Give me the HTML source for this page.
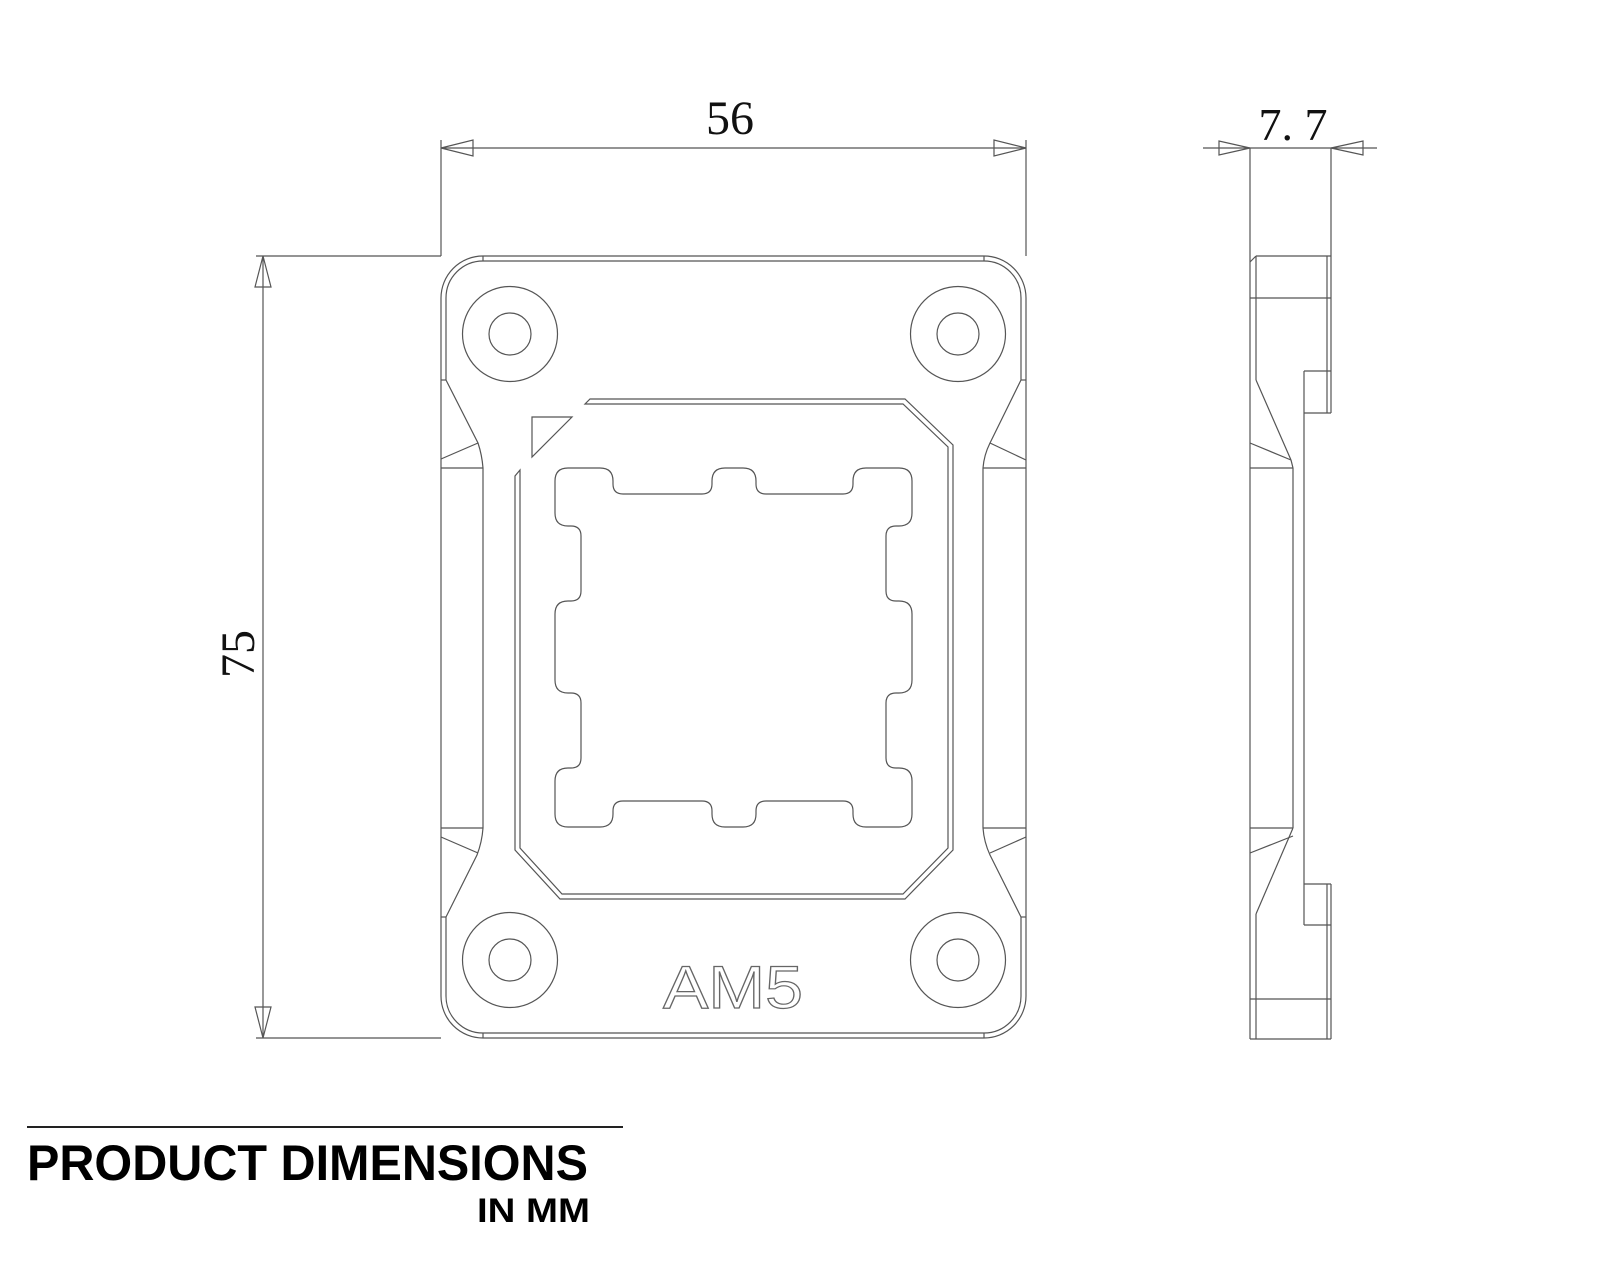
<!DOCTYPE html>
<html><head><meta charset="utf-8"><style>
html,body{margin:0;padding:0;background:#fff;}
svg{display:block;}
</style></head><body>
<svg width="1600" height="1280" viewBox="0 0 1600 1280" xmlns="http://www.w3.org/2000/svg">
<g fill="none" stroke="#555" stroke-width="1.2">
<!-- width dimension -->
<line x1="441" y1="148" x2="1026" y2="148"/>
<line x1="441" y1="140" x2="441" y2="256"/>
<line x1="1026" y1="140" x2="1026" y2="256"/>
<polygon points="441,148 473,140 473,156"/>
<polygon points="1026,148 994,140 994,156"/>
<!-- height dimension -->
<line x1="263" y1="256" x2="263" y2="1038"/>
<line x1="256" y1="256" x2="441" y2="256"/>
<line x1="256" y1="1038" x2="441" y2="1038"/>
<polygon points="263,256 255,287 271,287"/>
<polygon points="263,1038 255,1007 271,1007"/>
<!-- plate outer -->
<path d="M483,256 L984,256 A42,42 0 0 1 1026,298 L1026,996 A42,42 0 0 1 984,1038 L483,1038 A42,42 0 0 1 441,996 L441,298 A42,42 0 0 1 483,256 Z"/>
<path d="M483,261 L984,261 A37,37 0 0 1 1021,298 L1021,380 L990,443 Q984,455 983,468 L983,828 Q984,842 990,855 L1021,917 L1021,996 A37,37 0 0 1 984,1033 L483,1033 A37,37 0 0 1 446,996 L446,917 L477,855 Q482,842 483,828 L483,468 Q482,455 478,443 L446,380 L446,298 A37,37 0 0 1 483,261 Z"/>
<line x1="483" y1="256" x2="483" y2="261"/><line x1="984" y1="256" x2="984" y2="261"/>
<line x1="483" y1="1033" x2="483" y2="1038"/><line x1="984" y1="1033" x2="984" y2="1038"/>
<line x1="441" y1="380" x2="446" y2="380"/><line x1="1021" y1="380" x2="1026" y2="380"/>
<line x1="441" y1="917" x2="446" y2="917"/><line x1="1021" y1="917" x2="1026" y2="917"/>
<!-- waist details -->
<line x1="441" y1="468" x2="483" y2="468"/><line x1="441" y1="459" x2="478" y2="443"/>
<line x1="983" y1="468" x2="1026" y2="468"/><line x1="990" y1="443" x2="1026" y2="460"/>
<line x1="441" y1="828" x2="483" y2="828"/><line x1="441" y1="837" x2="478" y2="853"/>
<line x1="983" y1="828" x2="1026" y2="828"/><line x1="990" y1="853" x2="1026" y2="837"/>
<!-- holes -->
<circle cx="510" cy="334" r="47.5"/><circle cx="510" cy="334" r="21"/>
<circle cx="958" cy="334" r="47.5"/><circle cx="958" cy="334" r="21"/>
<circle cx="510" cy="960" r="47.5"/><circle cx="510" cy="960" r="21"/>
<circle cx="958" cy="960" r="47.5"/><circle cx="958" cy="960" r="21"/>
<!-- frame -->
<path d="M590,399 L905,399 L953,445 L953,850 L905,899 L560,899 L515,850 L515,476 L520,470 L520,848 L562,894 L903,894 L948,848 L948,447 L903,404 L585,404 Z"/>
<polygon points="532,417 572,417 532,457"/>
<!-- CPU cutout -->
<path d="M568,468 L600,468 Q613,468 613,481 L613,484 Q613,494 623,494 L702,494 Q712,494 712,484 L712,481 Q712,468 725,468 L743,468 Q756,468 756,481 L756,484 Q756,494 766,494 L843,494 Q853,494 853,484 L853,481 Q853,468 866,468 L899,468 Q912,468 912,481 L912,513 Q912,526 899,526 L896,526 Q886,526 886,536 L886,591 Q886,601 896,601 L899,601 Q912,601 912,614 L912,680 Q912,693 899,693 L896,693 Q886,693 886,703 L886,758 Q886,768 896,768 L899,768 Q912,768 912,781 L912,814 Q912,827 899,827 L866,827 Q853,827 853,814 L853,811 Q853,801 843,801 L766,801 Q756,801 756,811 L756,814 Q756,827 743,827 L725,827 Q712,827 712,814 L712,811 Q712,801 702,801 L623,801 Q613,801 613,811 L613,814 Q613,827 600,827 L568,827 Q555,827 555,814 L555,781 Q555,768 568,768 L571,768 Q581,768 581,758 L581,703 Q581,693 571,693 L568,693 Q555,693 555,680 L555,614 Q555,601 568,601 L571,601 Q581,601 581,591 L581,536 Q581,526 571,526 L568,526 Q555,526 555,513 L555,481 Q555,468 568,468 Z"/>
<!-- side view -->
<line x1="1203" y1="148" x2="1377" y2="148"/>
<polygon points="1250,148 1219,141 1219,155"/>
<polygon points="1331,148 1363,141 1363,155"/>
<line x1="1250" y1="148" x2="1250" y2="1039"/>
<line x1="1331" y1="148" x2="1331" y2="413"/>
<line x1="1327" y1="256" x2="1327" y2="413"/>
<line x1="1256" y1="256" x2="1331" y2="256"/>
<line x1="1250" y1="262" x2="1256" y2="256"/>
<line x1="1256" y1="256" x2="1256" y2="380"/>
<line x1="1250" y1="298" x2="1331" y2="298"/>
<line x1="1304" y1="371" x2="1331" y2="371"/>
<line x1="1304" y1="413" x2="1331" y2="413"/>
<line x1="1304" y1="371" x2="1304" y2="925"/>
<line x1="1256" y1="380" x2="1291" y2="460"/>
<line x1="1250" y1="443" x2="1291" y2="460"/>
<line x1="1291" y1="460" x2="1293" y2="468"/>
<line x1="1250" y1="468" x2="1293" y2="468"/>
<line x1="1293" y1="468" x2="1293" y2="828"/>
<line x1="1250" y1="828" x2="1293" y2="828"/>
<line x1="1293" y1="828" x2="1256" y2="914"/>
<line x1="1250" y1="853" x2="1293" y2="836"/>
<line x1="1256" y1="914" x2="1256" y2="1039"/>
<line x1="1304" y1="884" x2="1331" y2="884"/>
<line x1="1304" y1="925" x2="1331" y2="925"/>
<line x1="1331" y1="884" x2="1331" y2="1039"/>
<line x1="1327" y1="884" x2="1327" y2="1039"/>
<line x1="1250" y1="999" x2="1331" y2="999"/>
<line x1="1250" y1="1039" x2="1331" y2="1039"/>
</g>
<!-- dimension text -->
<g font-family="'Liberation Serif', serif" fill="#111">
<text x="730" y="134" font-size="48" text-anchor="middle">56</text>
<text x="1293" y="140" font-size="46" text-anchor="middle">7. 7</text>
<text transform="translate(254,654) rotate(-90)" font-size="48" text-anchor="middle">75</text>
</g>
<text x="733" y="1008" font-family="'Liberation Sans', sans-serif" font-size="60" text-anchor="middle" fill="none" stroke="#666" stroke-width="1.2" textLength="140" lengthAdjust="spacingAndGlyphs">AM5</text>
<line x1="27" y1="1127" x2="623" y2="1127" stroke="#222" stroke-width="2"/>
<text x="27" y="1180" font-family="'Liberation Sans', sans-serif" font-weight="bold" font-size="50" fill="#000" textLength="561" lengthAdjust="spacingAndGlyphs">PRODUCT DIMENSIONS</text>
<text x="477" y="1222" font-family="'Liberation Sans', sans-serif" font-weight="bold" font-size="34" fill="#000" textLength="113" lengthAdjust="spacingAndGlyphs">IN MM</text>
</svg>
</body></html>
